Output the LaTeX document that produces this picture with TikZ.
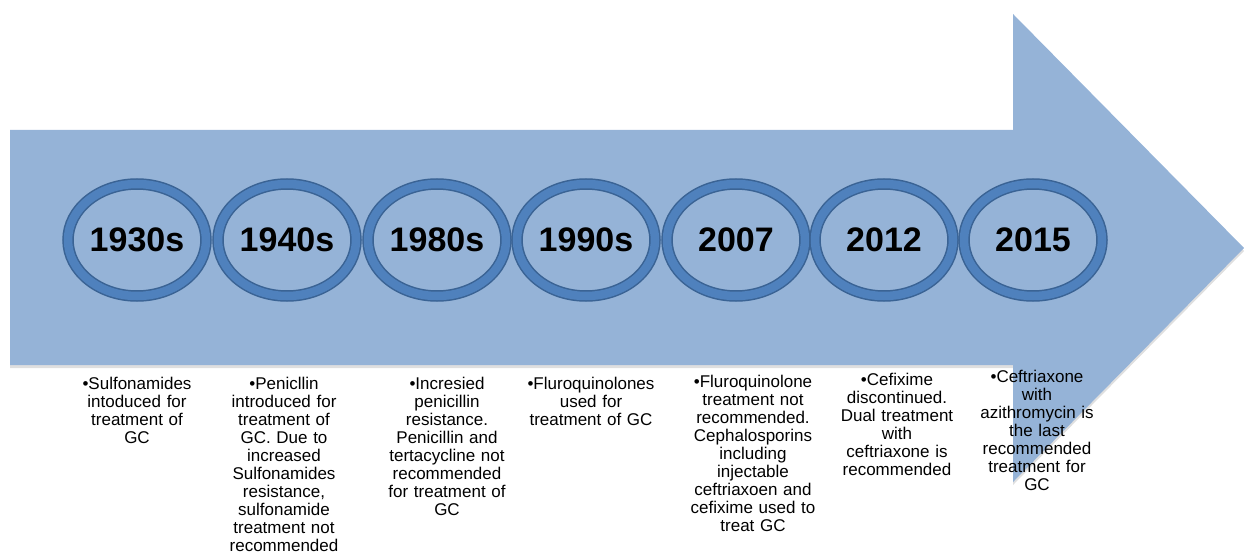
\documentclass[tikz,border=0pt]{standalone}
\usepackage{fontspec}
\setmainfont{Liberation Sans}
\usetikzlibrary{shapes.geometric,shadows}

\definecolor{arrowblue}{HTML}{95B3D7}
\definecolor{ringblue}{HTML}{4F81BD}
\definecolor{ringedge}{HTML}{3A6394}

\begin{document}
\begin{tikzpicture}[
    x=1pt, y=1pt,
    year/.style={
        ellipse,
        draw=ringedge,
        double=ringblue,
        double distance=8.5pt,
        line width=1.5pt,
        minimum width=138pt,
        minimum height=112pt,
        inner sep=0pt,
        font=\bfseries\fontsize{34}{34}\selectfont
    },
    note/.style={
        anchor=north,
        text width=150pt,
        align=center,
        inner sep=0pt,
        font=\fontsize{17}{18}\selectfont
    }
]
    \useasboundingbox (0,0) rectangle (1244,558);

    % Big timeline arrow
    \fill[arrowblue, drop shadow={shadow xshift=0pt, shadow yshift=-3pt, opacity=0.25}]
        (10,428) -- (1013,428) -- (1013,544) -- (1244,310)
        -- (1013,76) -- (1013,193) -- (10,193) -- cycle;

    % Years on the arrow
    \node[year] (y1930) at (137,318) {1930s};
    \node[year] (y1940) at (287,318) {1940s};
    \node[year] (y1980) at (437,318) {1980s};
    \node[year] (y1990) at (586,318) {1990s};
    \node[year] (y2007) at (736,318) {2007};
    \node[year] (y2012) at (884,318) {2012};
    \node[year] (y2015) at (1033,318) {2015};

    % What happened in each period
    \node[note] (n1930) at (137,181) {•Sulfonamides\\ intoduced for\\ treatment of\\ GC};
    \node[note] (n1940) at (284,181) {•Penicllin\\ introduced for\\ treatment of\\ GC. Due to\\ increased\\ Sulfonamides\\ resistance,\\ sulfonamide\\ treatment not\\ recommended};
    \node[note] (n1980) at (447,181) {•Incresied\\ penicillin\\ resistance.\\ Penicillin and\\ tertacycline not\\ recommended\\ for treatment of\\ GC};
    \node[note] (n1990) at (591,181) {•Fluroquinolones\\ used for\\ treatment of GC};
    \node[note] (n2007) at (753,183) {•Fluroquinolone\\ treatment not\\ recommended.\\ Cephalosporins\\ including\\ injectable\\ ceftriaxoen and\\ cefixime used to\\ treat GC};
    \node[note] (n2012) at (897,185) {•Cefixime\\ discontinued.\\ Dual treatment\\ with\\ ceftriaxone is\\ recommended};
    \node[note] (n2015) at (1037,188) {•Ceftriaxone\\ with\\ azithromycin is\\ the last\\ recommended\\ treatment for\\ GC};
\end{tikzpicture}
\end{document}
